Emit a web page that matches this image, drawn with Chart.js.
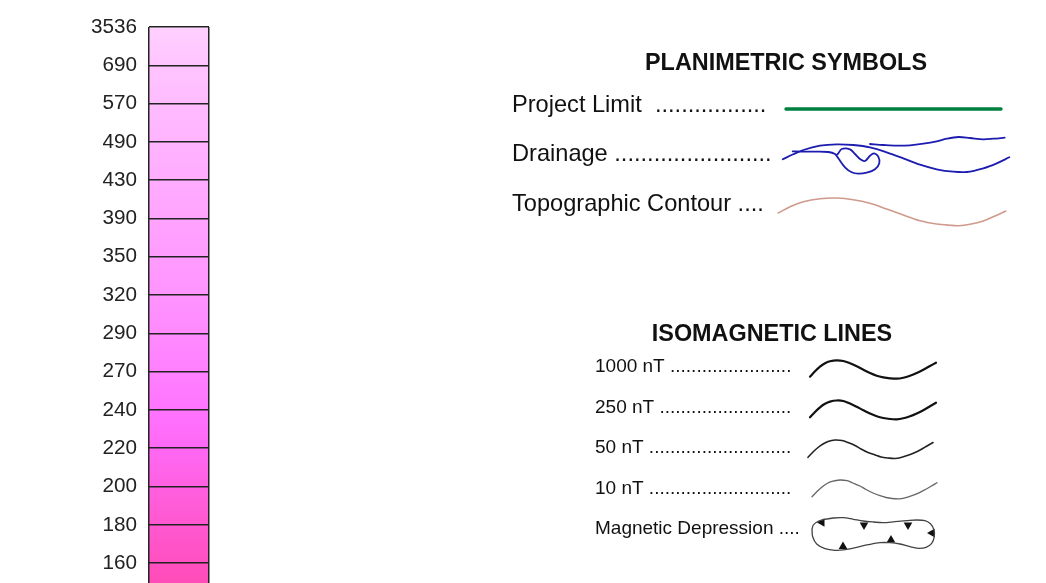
<!DOCTYPE html>
<html>
<head>
<meta charset="utf-8">
<script src="https://cdn.jsdelivr.net/npm/chart.js@4"></script>
<style>
  html, body { margin: 0; background: #fff; overflow: hidden; }
  canvas { position: absolute; left: 0; top: 0; filter: blur(0.4px); }
</style>
</head>
<body>
<canvas id="scale" width="1046" height="609"></canvas>
<canvas id="legend" width="1046" height="583"></canvas>
<script>
// colour bar
const tickLabels = ["3536", "690", "570", "490", "430", "390", "350", "320", "290", "270", "240", "220", "200", "180", "160"];
const cellTop = ["#ffd0ff", "#ffc4ff", "#ffbcff", "#ffb4ff", "#ffacff", "#ffa4ff", "#ff9cff", "#ff94ff", "#ff8aff", "#ff80ff", "#ff74ff", "#ff68f4", "#ff60e0", "#ff58d0", "#ff50c0"];
const cellBottom = ["#ffc4ff", "#ffbcff", "#ffb4ff", "#ffacff", "#ffa4ff", "#ff9cff", "#ff94ff", "#ff8aff", "#ff80ff", "#ff74ff", "#ff68f4", "#ff60e0", "#ff58d0", "#ff50c0", "#ff48b0"];

// legend swatches
const projectLimit = [[786, 109], [1001, 109]];
const drainageMain = [[782.7, 159.3], [793.3, 154.3], [803.3, 150], [820, 145.7], [836.7, 144.3], [853.3, 145], [870, 147.3], [886.7, 152.3], [903.3, 158.3], [920, 164.7], [936.7, 169.3], [953.3, 171.7], [966.7, 172], [983.3, 168.3], [996.7, 163.3], [1009.3, 157.3]];
const drainageUpper = [[870, 144], [883.3, 145], [896.7, 145.7], [910, 145.3], [923.3, 143.7], [936.7, 141.3], [946.7, 138.7], [958.3, 137], [970, 138], [983.3, 139.3], [993.3, 138.7], [1004.7, 137.7]];
const drainageLoop = [[792.7, 151.3], [803.3, 151.7], [813.3, 151.7], [828.3, 152], [835, 154], [838.3, 158.3], [845, 167.3], [851.7, 172.3], [858.3, 173.7], [866.7, 172.7], [875, 169.3], [879.3, 163.3], [878.3, 156.7], [874, 153.3], [870, 155.7], [865, 161], [860, 159], [855, 154], [850, 149.3], [841.7, 149], [838.3, 153.3], [836.7, 155]];
const contour = [[778.3, 213], [790, 206.7], [803.3, 201.7], [820, 198.7], [836.7, 198], [853.3, 199.7], [870, 203.3], [886.7, 209], [903.3, 215], [920, 220.7], [936.7, 224], [950, 225.3], [958.3, 225.7], [970, 224.3], [983.3, 221], [995, 216], [1005.7, 211]];
const iso1000 = [[810, 376.7], [815, 371.3], [820, 366.7], [825, 363.3], [830, 361.3], [836.7, 360.3], [843.3, 361], [850, 363.3], [856.7, 366.3], [863.3, 369.7], [870, 373], [876.7, 375.7], [883.3, 377.3], [890, 378.3], [896.7, 378.7], [903.3, 377.7], [910, 375.7], [916.7, 373], [923.3, 369.7], [930, 366], [936, 362.7]];
const iso250 = [[810, 417.3], [815, 412], [820, 407.3], [825, 403.8], [830, 401.6], [836.7, 400.5], [843.3, 401], [850, 403.6], [856.7, 406.8], [863.3, 410.2], [870, 413.5], [876.7, 416.2], [883.3, 418], [890, 419], [896.7, 419.3], [903.3, 418.3], [910, 416.3], [916.7, 413.5], [923.3, 410.2], [930, 406.3], [936, 402.7]];
const iso50 = [[808, 457.3], [813, 452], [818, 447.5], [823, 444], [828, 441.5], [835, 440], [842, 440.5], [848, 442.5], [855, 445.5], [861, 449], [868, 452.5], [875, 455], [881, 457], [888, 458], [895, 458.5], [901, 457.5], [908, 455.3], [915, 452.5], [921, 449.5], [927, 446], [933, 442.5]];
const iso10 = [[812, 496.7], [817, 491.5], [822, 487], [827, 483.5], [832, 481.3], [840, 480], [847, 480.7], [853, 483], [860, 486], [866, 489.5], [873, 493], [880, 495.7], [886, 497.5], [892, 498.5], [899, 498.8], [905, 497.8], [912, 495.7], [919, 492.8], [925, 489.7], [931, 486.3], [937, 482.7]];
const depression = [[812, 529.3], [813.3, 525], [817.3, 521.7], [823.3, 519.7], [833.3, 518], [843.3, 517.7], [853.3, 519.3], [863.3, 521], [873.3, 522], [883.3, 522.7], [895, 521.7], [906.7, 520.7], [916.7, 520], [925, 520.7], [930.7, 524], [934, 530], [934.3, 536.7], [931.7, 543.3], [926, 547.3], [918.3, 548.3], [910, 546.7], [900, 544], [890, 542.7], [880, 542.7], [868.3, 544.7], [856.7, 547.3], [845, 549.7], [835, 550.3], [825, 548.7], [816.7, 544], [812.7, 536.7], [812, 529.3]];
const depressionTicks = [[822, 522.5], [864, 525], [908, 525], [932, 533], [891, 540], [843, 546.5]];
const depressionAngles = [150, 180, 180, 270, 0, 0];

const legendTexts = [
  ["PLANIMETRIC SYMBOLS", 786, 70, "bold 23.4px", "center"],
  ["Project Limit  .................", 512, 112, "23.6px", "left"],
  ["Drainage ........................", 512, 161, "23.6px", "left"],
  ["Topographic Contour ....", 512, 211, "23.6px", "left"],
  ["ISOMAGNETIC LINES", 772, 341, "bold 23.4px", "center"],
  ["1000 nT .......................", 595, 372, "19px", "left"],
  ["250 nT .........................", 595, 413, "19px", "left"],
  ["50 nT ...........................", 595, 453, "19px", "left"],
  ["10 nT ...........................", 595, 494, "19px", "left"],
  ["Magnetic Depression ....", 595, 534, "19px", "left"],
];

const FONT = '"Liberation Sans", Arial, sans-serif';

new Chart(document.getElementById("scale"), {
  type: "bar",
  data: {
    labels: ["scale"],
    datasets: cellTop.map((top, i) => ({
      data: [1],
      stack: "cells",
      barPercentage: 1,
      categoryPercentage: 1,
      borderWidth: 0,
      backgroundColor: (c) => {
        const s = c.chart.scales.y;
        const y0 = s ? s.getPixelForValue(i) : NaN;
        const y1 = s ? s.getPixelForValue(i + 1) : NaN;
        if (!isFinite(y0) || !isFinite(y1)) return top;
        const g = c.chart.ctx.createLinearGradient(0, y0, 0, y1);
        g.addColorStop(0, top);
        g.addColorStop(1, cellBottom[i]);
        return g;
      },
    })),
  },
  options: {
    responsive: false,
    animation: false,
    layout: { autoPadding: false, padding: { top: 27, right: 837, bottom: 0, left: 0 } },
    plugins: { legend: { display: false }, tooltip: { enabled: false } },
    scales: {
      x: {
        stacked: true,
        ticks: { display: false },
        grid: { color: "#222", lineWidth: 1.5, tickLength: 0, z: 1 },
        border: { display: false },
        afterFit: (s) => { s.height = 0; },
      },
      y: {
        stacked: true,
        reverse: true,
        min: 0,
        max: 14.56,
        afterFit: (s) => { s.width = 149; },
        afterBuildTicks: (s) => { s.ticks = tickLabels.map((_, i) => ({ value: i })); },
        ticks: {
          autoSkip: false,
          padding: 12,
          color: "#222",
          font: { family: FONT, size: 20.7 },
          callback: (v) => tickLabels[v],
        },
        grid: { color: "#222", lineWidth: 1.5, tickLength: 0, z: 1 },
        border: { display: false },
      },
    },
  },
});

const line = (points, color, width) => ({
  data: points.map(([x, y]) => ({ x, y })),
  showLine: true,
  borderColor: color,
  borderWidth: width,
  borderCapStyle: "round",
  tension: 0.33,
  pointRadius: 0,
});

const legendText = {
  id: "legendText",
  afterDraw(chart) {
    const { ctx, scales } = chart;
    ctx.save();
    ctx.fillStyle = "#111";
    ctx.textBaseline = "alphabetic";
    legendTexts.forEach(([text, x, y, font, align]) => {
      ctx.font = font + " " + FONT;
      ctx.textAlign = align;
      ctx.fillText(text, scales.x.getPixelForValue(x), scales.y.getPixelForValue(y));
    });
    ctx.restore();
  },
};

new Chart(document.getElementById("legend"), {
  type: "scatter",
  data: {
    datasets: [
      line(projectLimit, "#008040", 3.4),
      line(drainageMain, "#1c1cb0", 1.8),
      line(drainageUpper, "#1c1cb0", 1.8),
      line(drainageLoop, "#1c1cb0", 1.8),
      line(contour, "#cf9a8c", 1.6),
      line(iso1000, "#111", 2.2),
      line(iso250, "#111", 2.2),
      line(iso50, "#222", 1.6),
      line(iso10, "#666", 1.3),
      line(depression, "#444", 1.3),
      {
        data: depressionTicks.map(([x, y]) => ({ x, y })),
        pointStyle: "triangle",
        pointRadius: 5,
        pointRotation: depressionAngles,
        backgroundColor: "#111",
        borderColor: "#111",
        borderWidth: 0,
      },
    ],
  },
  plugins: [legendText],
  options: {
    responsive: false,
    animation: false,
    layout: { autoPadding: false, padding: 0 },
    plugins: { legend: { display: false }, tooltip: { enabled: false } },
    scales: {
      x: { display: false, min: 0, max: 1046 },
      y: { display: false, reverse: true, min: 0, max: 583 },
    },
  },
});
</script>
</body>
</html>
